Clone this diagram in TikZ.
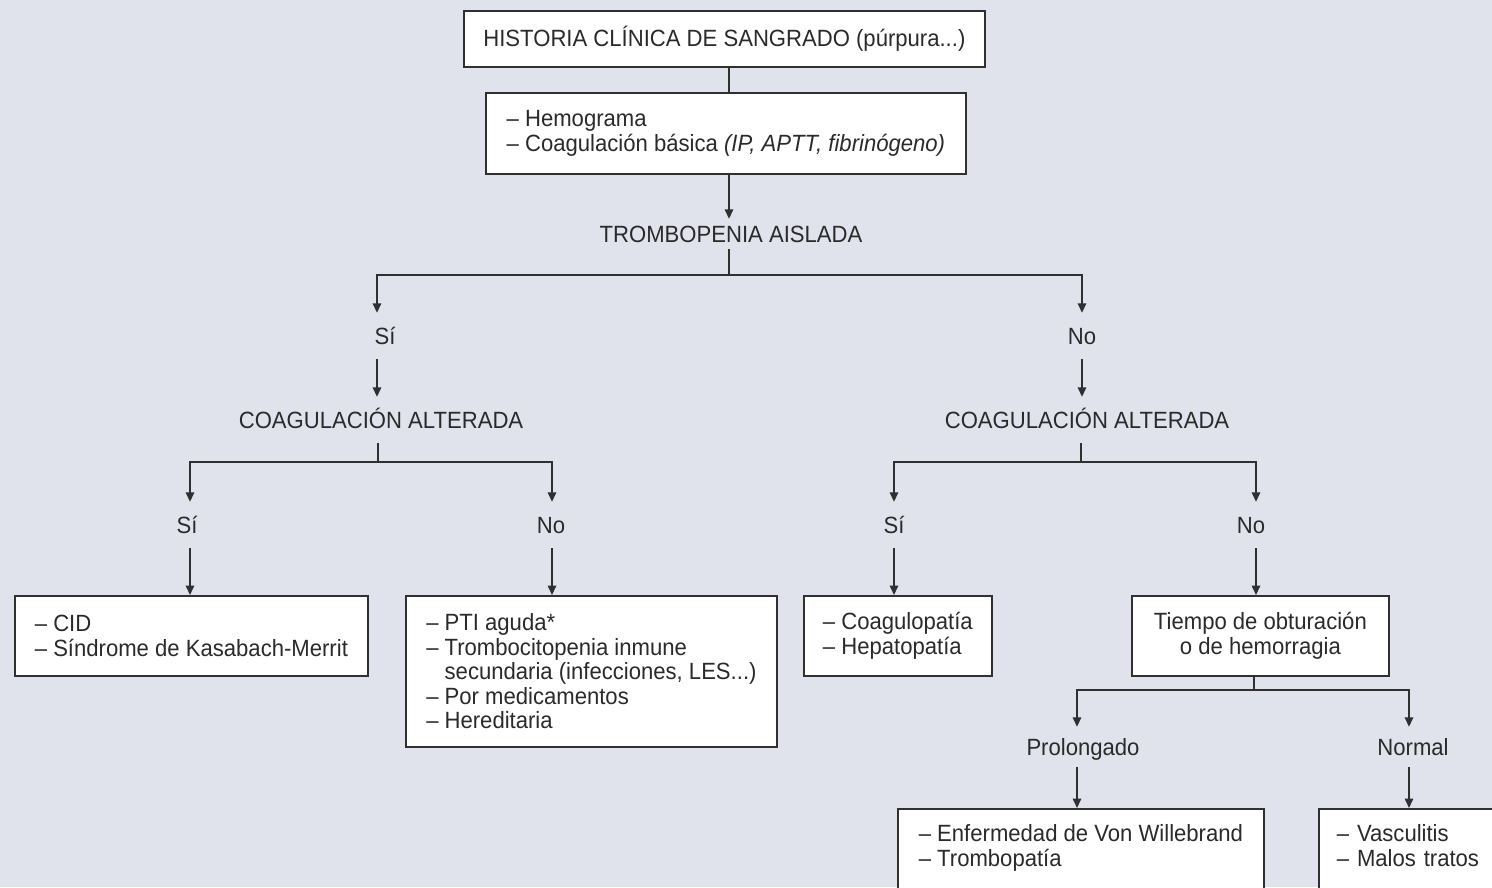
\documentclass[tikz,border=0pt]{standalone}
\usepackage{fontspec}
\setmainfont{Liberation Sans}[FakeStretch=0.94]
\usetikzlibrary{arrows.meta,calc}
\definecolor{bg}{HTML}{E1E3EC}
\definecolor{ink}{HTML}{2A2A2A}
\definecolor{linec}{HTML}{303030}
\newcommand{\diagfont}{\fontsize{23.5pt}{24.5pt}\selectfont}
\tikzset{
  txt/.style={font=\diagfont, text=ink},
  box/.style={txt, draw=linec, line width=1.8pt, fill=white, anchor=north west, inner sep=0pt, align=left},
  lbl/.style={txt, inner sep=0pt, text height=16.8pt, text depth=0pt, minimum height=46pt},
  ln/.style={draw=linec, line width=1.6pt},
  arr/.style={ln, -{Triangle[length=9.5pt,width=8.5pt]}},
}
\begin{document}
\begin{tikzpicture}[x=1pt,y=-1pt]
\useasboundingbox (0,0) rectangle (1492,887);
\fill[bg] (0,0) rectangle (1492,887);
\clip (0,0) rectangle (1492,887);

% column coordinates
\coordinate (sp) at (729,0);
\coordinate (cA) at (377,0);
\coordinate (cB) at (1082,0);
\coordinate (cL) at (378,0);
\coordinate (cR) at (1081,0);
\coordinate (cC) at (190,0);
\coordinate (cD) at (552,0);
\coordinate (cE) at (894,0);
\coordinate (cF) at (1256,0);
\coordinate (cT) at (1254,0);
\coordinate (cG) at (1077,0);
\coordinate (cH) at (1409,0);
\coordinate (h1) at (0,275);
\coordinate (h2) at (0,462);
\coordinate (h3) at (0,690);

% boxes
\node[box, align=center, minimum width=521pt, minimum height=56pt] (b1) at (463,10)
  {HISTORIA CLÍNICA DE SANGRADO (púrpura...)};
\node[box, minimum width=480pt, minimum height=81pt] (b2) at (485,92)
  {– Hemograma\\– Coagulación básica \textit{(IP, APTT, fibrinógeno)}};
\node[box, minimum width=353pt, minimum height=80pt] (cid) at (14,595)
  {– CID\\– Síndrome de Kasabach-Merrit};
\node[box, minimum width=371pt, minimum height=151pt] (pti) at (405,595)
  {– PTI aguda*\\– Trombocitopenia inmune\\\phantom{– }secundaria (infecciones, LES...)\\– Por medicamentos\\– Hereditaria};
\node[box, minimum width=188pt, minimum height=80pt] (coagp) at (803,595)
  {– Coagulopatía\\– Hepatopatía};
\node[box, align=center, minimum width=257pt, minimum height=80pt] (tiempo) at (1131,595)
  {Tiempo de obturación\\o de hemorragia};
\node[box, minimum width=366pt, inner ysep=16pt, text depth=70pt] (vw) at (897,808)
  {– Enfermedad de Von Willebrand\\– Trombopatía};
\node[box, inner xsep=18pt, inner ysep=16pt, text depth=70pt, text width=170pt] (mt) at (1318,808)
  {– Vasculitis\\– Malos tratos};

% labels
\node[lbl, minimum height=30pt] (trom) at (731,234) {TROMBOPENIA AISLADA};
\node[lbl] (si1) at (385,336) {Sí};
\node[lbl] (no1) at (1082,336) {No};
\node[lbl] (coag1) at (381,420) {COAGULACIÓN ALTERADA};
\node[lbl] (coag2) at (1087,420) {COAGULACIÓN ALTERADA};
\node[lbl] (si2) at (187,525) {Sí};
\node[lbl] (no2) at (551,525) {No};
\node[lbl] (si3) at (894,525) {Sí};
\node[lbl] (no3) at (1251,525) {No};
\node[lbl, minimum height=40pt] (prol) at (1083,747) {Prolongado};
\node[lbl, minimum height=40pt] (norm) at (1413,747) {Normal};

% connectors
\draw[ln] (b1.south -| sp) -- (b2.north -| sp);
\draw[arr] (b2.south -| sp) -- (trom.north -| sp);
\draw[arr] (trom.south -| sp) -- (h1 -| sp) -| (si1.north -| cA);
\draw[arr] (h1 -| sp) -| (no1.north -| cB);
\draw[arr] (si1.south -| cA) -- (coag1.north -| cA);
\draw[arr] (no1.south -| cB) -- (coag2.north -| cB);

\draw[arr] (coag1.south -| cL) -- (h2 -| cL) -| (si2.north -| cC);
\draw[arr] (h2 -| cL) -| (no2.north -| cD);
\draw[arr] (coag2.south -| cR) -- (h2 -| cR) -| (si3.north -| cE);
\draw[arr] (h2 -| cR) -| (no3.north -| cF);

\draw[arr] (si2.south -| cC) -- (cid.north -| cC);
\draw[arr] (no2.south -| cD) -- (pti.north -| cD);
\draw[arr] (si3.south -| cE) -- (coagp.north -| cE);
\draw[arr] (no3.south -| cF) -- (tiempo.north -| cF);

\draw[arr] (tiempo.south -| cT) -- (h3 -| cT) -| (prol.north -| cG);
\draw[arr] (h3 -| cT) -| (norm.north -| cH);
\draw[arr] (prol.south -| cG) -- (vw.north -| cG);
\draw[arr] (norm.south -| cH) -- (mt.north -| cH);
\end{tikzpicture}
\end{document}
